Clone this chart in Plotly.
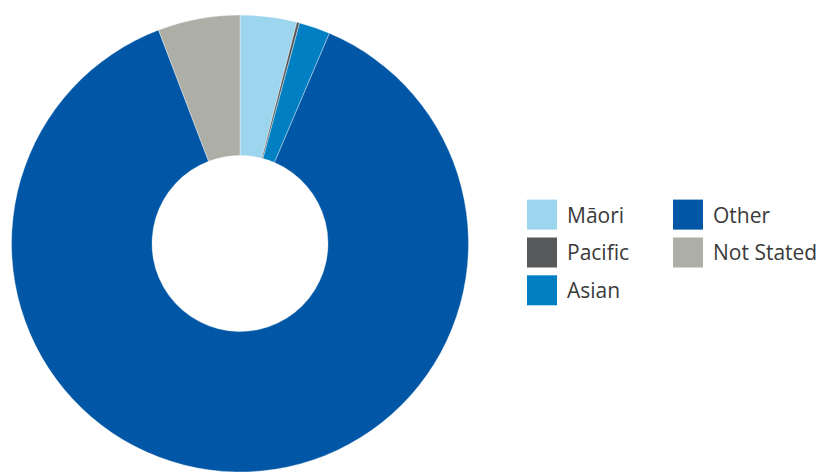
import plotly.graph_objects as go

# Share of population by ethnic group (%)
labels = ["Māori", "Pacific", "Asian", "Other", "Not Stated"]
values = [4.0, 0.2, 2.2, 87.8, 5.8]
colors = ["#9DD5EE", "#58595B", "#0080C3", "#0157A6", "#ADAEA6"]

W, H = 821, 472

# Donut geometry in pixels
cx, cy, r = 240, 243.5, 228.5

fig = go.Figure(
    go.Pie(
        labels=labels,
        values=values,
        marker=dict(colors=colors, line=dict(color="rgba(255,255,255,0.6)", width=0.6)),
        hole=0.385,
        sort=False,
        direction="clockwise",
        rotation=0,
        textinfo="none",
        hoverinfo="label+percent",
        showlegend=False,
        domain=dict(
            x=[(cx - r) / W, (cx + r) / W],
            y=[1 - (cy + r) / H, 1 - (cy - r) / H],
        ),
    )
)

# Two-column legend: swatches and labels
sw = 30
col_x = [527, 673]
row_y = [214.6, 252.5, 290.3]
shapes, annotations = [], []
for i, (lab, col) in enumerate(zip(labels, colors)):
    c, rw = divmod(i, 3)
    x0 = col_x[c]
    yc = row_y[rw]
    shapes.append(dict(
        type="rect", xref="paper", yref="paper",
        x0=x0 / W, x1=(x0 + sw) / W,
        y0=1 - (yc + sw / 2) / H, y1=1 - (yc - sw / 2) / H,
        fillcolor=col, line=dict(width=0),
    ))
    annotations.append(dict(
        text=lab, xref="paper", yref="paper",
        x=(x0 + sw + 8) / W, y=1 - yc / H,
        xanchor="left", yanchor="middle", showarrow=False,
        font=dict(family="Open Sans", size=21, color="#3A3A3A"),
    ))

fig.update_layout(
    width=W, height=H,
    margin=dict(l=0, r=0, t=0, b=0),
    paper_bgcolor="white",
    plot_bgcolor="white",
    shapes=shapes,
    annotations=annotations,
)

fig.write_html("out.html")
